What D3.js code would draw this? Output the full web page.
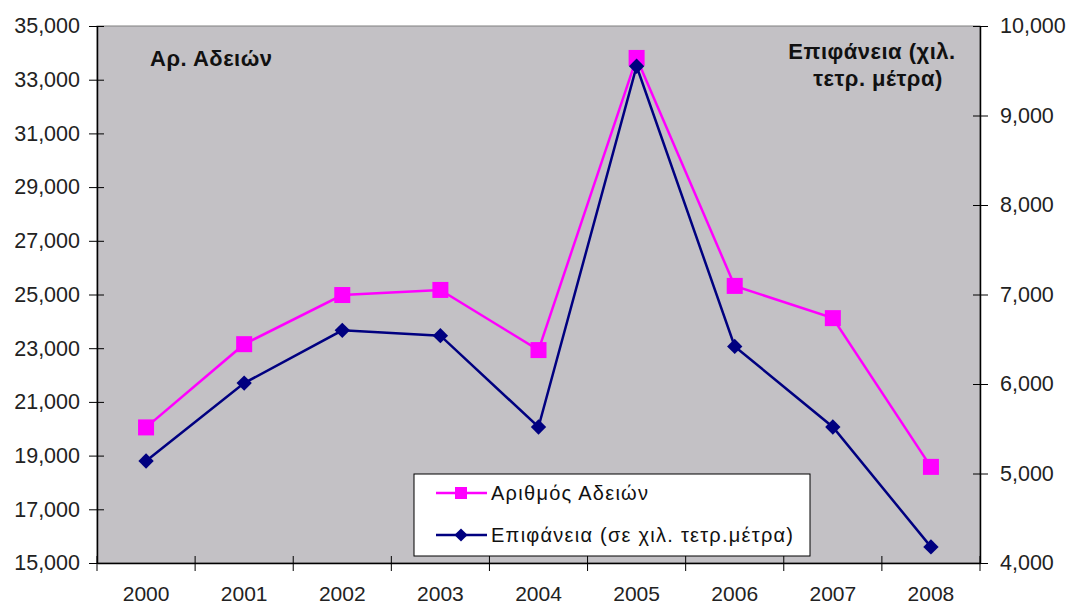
<!DOCTYPE html>
<html>
<head>
<meta charset="utf-8">
<script src="https://cdn.jsdelivr.net/npm/d3@7"></script>
<style>
  body { margin: 0; background: #fff; }
  text { font-family: "Liberation Sans", Arial, sans-serif; }
</style>
</head>
<body>
<svg id="chart" width="1068" height="605"></svg>
<script>
// datos
const years = ["2000", "2001", "2002", "2003", "2004", "2005", "2006", "2007", "2008"];
const adeies = [20050, 23150, 24980, 25170, 22930, 33810, 25320, 24120, 18580];
const epifaneia = [5140, 6010, 6600, 6540, 5520, 9550, 6420, 5520, 4180];
const leftTicks = [15000, 17000, 19000, 21000, 23000, 25000, 27000, 29000, 31000, 33000, 35000];
const rightTicks = [4000, 5000, 6000, 7000, 8000, 9000, 10000];
const seriesNames = ["Αριθμός Αδειών", "Επιφάνεια (σε χιλ. τετρ.μέτρα)"];

const svg = d3.select("#chart");
const m = { left: 97, right: 980, top: 26, bottom: 563 };
const fmt = d3.format(",");

const x = d3.scaleBand().domain(years).range([m.left, m.right]);
const yL = d3.scaleLinear().domain([15000, 35000]).range([m.bottom, m.top]);
const yR = d3.scaleLinear().domain([4000, 10000]).range([m.bottom, m.top]);

// fondo gris del area de trazado
svg.append("rect")
    .attr("x", m.left).attr("y", m.top)
    .attr("width", m.right - m.left).attr("height", m.bottom - m.top)
    .attr("fill", "#c3c1c5").attr("stroke", "#808080").attr("stroke-width", 1);

// eje izquierdo
const axL = svg.append("g").attr("transform", `translate(${m.left},0)`)
    .call(d3.axisLeft(yL).tickValues(leftTicks).tickFormat(fmt).tickSizeOuter(0));
axL.selectAll(".tick line").attr("x1", 7).attr("x2", -8);

// eje derecho
const axR = svg.append("g").attr("transform", `translate(${m.right},0)`)
    .call(d3.axisRight(yR).tickValues(rightTicks).tickFormat(fmt).tickSizeOuter(0));
axR.selectAll(".tick line").attr("x1", -7).attr("x2", 8);

// eje x: marcas entre categorias
const axB = svg.append("g").attr("transform", `translate(0,${m.bottom})`)
    .call(d3.axisBottom(x).tickSize(0).tickPadding(23));
const bounds = d3.range(years.length + 1).map(i => m.left + i * x.step());
axB.selectAll(".bound").data(bounds).enter().append("line")
    .attr("x1", d => d).attr("x2", d => d).attr("y1", -7).attr("y2", 8)
    .attr("stroke", "#000");

[axL, axR, axB].forEach(a => {
    a.select(".domain").attr("stroke", "#000").attr("stroke-width", 1.5);
    a.selectAll(".tick line").attr("stroke", "#000");
    a.selectAll("text").attr("font-size", 21.5).attr("fill", "#222")
        .style("font-family", "'Liberation Sans', Arial, sans-serif");
});
axB.selectAll("text").attr("font-size", 21);
axL.selectAll("text").attr("x", -17);
axR.selectAll("text").attr("x", 20);

// titulos de ejes
const title = (t, xp, yp, anchor) => svg.append("text")
    .attr("x", xp).attr("y", yp).attr("font-size", 22).attr("font-weight", "bold")
    .attr("letter-spacing", 0.5).attr("text-anchor", anchor).attr("fill", "#111").text(t);
title("Αρ. Αδειών", 150, 66, "start");
title("Επιφάνεια (χιλ.", 872, 59, "middle");
title("τετρ. μέτρα)", 878, 86, "middle");

const cx = d => x(d) + x.bandwidth() / 2;

// serie 1: magenta con cuadrados
svg.append("path")
    .attr("d", d3.line().x((d, i) => cx(years[i])).y(d => yL(d))(adeies))
    .attr("fill", "none").attr("stroke", "#ff00ff").attr("stroke-width", 2.5);
svg.selectAll(".sq").data(adeies).enter().append("rect")
    .attr("x", (d, i) => cx(years[i]) - 8).attr("y", d => yL(d) - 8)
    .attr("width", 16).attr("height", 16).attr("fill", "#ff00ff");

// serie 2: azul marino con rombos
svg.append("path")
    .attr("d", d3.line().x((d, i) => cx(years[i])).y(d => yR(d))(epifaneia))
    .attr("fill", "none").attr("stroke", "#000080").attr("stroke-width", 2.5);
const diamond = d3.symbol().type(d3.symbolDiamond2).size(150);
svg.selectAll(".dm").data(epifaneia).enter().append("path")
    .attr("transform", (d, i) => `translate(${cx(years[i])},${yR(d)})`)
    .attr("d", diamond).attr("fill", "#000080");

// leyenda
const lg = svg.append("g");
lg.append("rect").attr("x", 414).attr("y", 474).attr("width", 396).attr("height", 82)
    .attr("fill", "#fff").attr("stroke", "#000").attr("stroke-width", 1);
const rows = [
    { y: 493, color: "#ff00ff", marker: "sq", len: 157 },
    { y: 535, color: "#000080", marker: "dm", len: 302 }
];
rows.forEach((r, i) => {
    lg.append("line").attr("x1", 436).attr("x2", 487).attr("y1", r.y).attr("y2", r.y)
        .attr("stroke", r.color).attr("stroke-width", 2.5);
    if (r.marker === "sq") {
        lg.append("rect").attr("x", 455).attr("y", r.y - 6).attr("width", 12).attr("height", 12).attr("fill", r.color);
    } else {
        lg.append("path").attr("transform", `translate(461,${r.y})`)
            .attr("d", d3.symbol().type(d3.symbolDiamond2).size(110)).attr("fill", r.color);
    }
    lg.append("text").attr("x", 491).attr("y", r.y + 7).attr("font-size", 20).attr("fill", "#111")
        .attr("textLength", r.len).attr("lengthAdjust", "spacing")
        .text(seriesNames[i]);
});
</script>
</body>
</html>
